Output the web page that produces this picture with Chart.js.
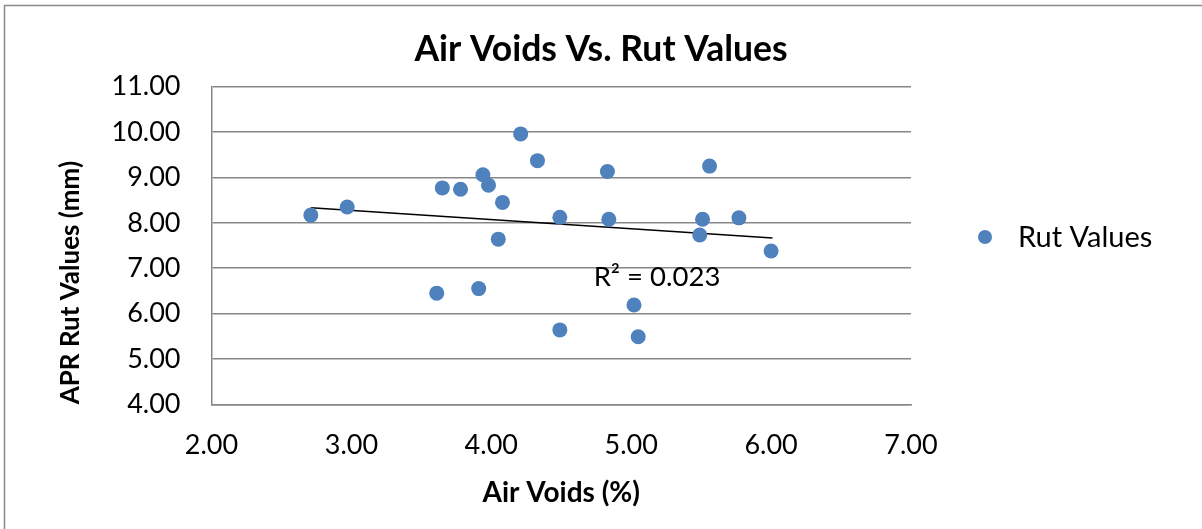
<!DOCTYPE html>
<html>
<head>
<meta charset="utf-8">
<script src="https://cdn.jsdelivr.net/npm/chart.js@4.4.1/dist/chart.umd.min.js"></script>
<style>
  html, body { margin: 0; padding: 0; background: #ffffff; }
  #wrap { width: 1202px; height: 529px; }
</style>
</head>
<body>
<div id="wrap"><canvas id="c" width="1202" height="529"></canvas></div>
<script>
// ---- data ----
const airVoids = [2.71, 2.97, 3.65, 3.78, 3.94, 3.98, 4.08, 4.21, 4.33, 4.49, 4.05, 3.61, 3.91, 4.49,
                  4.83, 4.84, 5.56, 5.51, 5.49, 5.77, 6.00, 5.02, 5.05];
const rutValues = [8.17, 8.35, 8.77, 8.74, 9.06, 8.83, 8.45, 9.96, 9.37, 8.12, 7.64, 6.45, 6.55, 5.64,
                   9.13, 8.08, 9.25, 8.08, 7.73, 8.11, 7.38, 6.19, 5.49];
const trendX = [2.71, 6.01];
const trendY = [8.33, 7.665];
const xTicks = [2, 3, 4, 5, 6, 7];
const yTicks = [4, 5, 6, 7, 8, 9, 10, 11];
const chartTitle = 'Air Voids Vs. Rut Values';
const xTitle = 'Air Voids (%)';
const yTitle = 'APR Rut Values (mm)';
const seriesName = 'Rut Values';
const r2Label = 'R² = 0.023';

const FONT = 'Lato, "Open Sans", "Liberation Sans", sans-serif';
const BLUE = '#4F81BD';
const GRID = '#878787';

const decor = {
  id: 'decor',
  beforeDraw(chart) {
    const ctx = chart.ctx;
    ctx.save();
    ctx.strokeStyle = '#8a8a8a';
    ctx.lineWidth = 1.5;
    ctx.strokeRect(4.5, 5.5, 1400, 700);
    ctx.restore();
  },
  afterDraw(chart) {
    const ctx = chart.ctx;
    ctx.save();
    // R² label
    ctx.fillStyle = '#000';
    ctx.font = '27.5px ' + FONT;
    ctx.textAlign = 'center';
    ctx.textBaseline = 'middle';
    ctx.fillText(r2Label, 657, 277);
    // legend
    ctx.beginPath();
    ctx.arc(985, 237, 7, 0, Math.PI * 2);
    ctx.fillStyle = BLUE;
    ctx.fill();
    ctx.fillStyle = '#000';
    ctx.textAlign = 'left';
    ctx.font = '29px ' + FONT;
    ctx.fillText(seriesName, 1018, 238);
    ctx.restore();
  }
};

new Chart(document.getElementById('c'), {
  type: 'scatter',
  data: {
    datasets: [
      {
        label: seriesName,
        data: airVoids.map((x, i) => ({ x: x, y: rutValues[i] })),
        backgroundColor: BLUE,
        borderColor: BLUE,
        pointRadius: 7.5,
        pointHoverRadius: 7.5,
        borderWidth: 0
      },
      {
        label: 'Linear (Rut Values)',
        type: 'line',
        data: trendX.map((x, i) => ({ x: x, y: trendY[i] })),
        borderColor: '#000',
        borderWidth: 1.5,
        pointRadius: 0,
        fill: false,
        showLine: true
      }
    ]
  },
  options: {
    responsive: false,
    animation: false,
    devicePixelRatio: 1,
    layout: { padding: { left: 0, right: 0, top: 0, bottom: 0 } },
    plugins: {
      legend: { display: false },
      tooltip: { enabled: false },
      title: {
        display: true,
        text: chartTitle,
        color: '#000',
        font: { family: FONT, size: 35.5, weight: 'bold', lineHeight: 1.2 },
        padding: { top: 28.7, bottom: 15.4 }
      }
    },
    scales: {
      x: {
        type: 'linear',
        min: 2, max: 7,
        afterBuildTicks(scale) { scale.ticks = xTicks.map(v => ({ value: v })); },
        afterFit(scale) { scale.height = 124.7; },
        grid: { display: false, drawTicks: false },
        border: { display: true, color: GRID, width: 1.5 },
        ticks: {
          color: '#000',
          padding: 25,
          font: { family: FONT, size: 27 },
          callback: v => Number(v).toFixed(2)
        },
        title: {
          display: true,
          text: xTitle,
          color: '#000',
          font: { family: FONT, size: 28, weight: 'bold', lineHeight: 1.2 },
          padding: { top: 0, bottom: 19.2 }
        }
      },
      y: {
        type: 'linear',
        min: 4, max: 11,
        afterBuildTicks(scale) { scale.ticks = yTicks.map(v => ({ value: v })); },
        afterFit(scale) { scale.width = 211.5; },
        grid: { display: true, color: GRID, lineWidth: 1.5, drawTicks: false },
        border: { display: true, color: GRID, width: 1.5 },
        ticks: {
          color: '#000',
          padding: 31,
          font: { family: FONT, size: 27 },
          callback: v => Number(v).toFixed(2)
        },
        title: {
          display: true,
          text: yTitle,
          align: 'start',
          color: '#000',
          font: { family: FONT, size: 26, weight: 'bold', lineHeight: 1.2 },
          padding: { top: 55.4, bottom: 0 }
        }
      },
      legendSpace: {
        type: 'linear',
        position: 'right',
        display: true,
        afterFit(scale) { scale.width = 291; },
        grid: { display: false, drawTicks: false },
        border: { display: false },
        ticks: { display: false },
        title: { display: false }
      }
    }
  },
  plugins: [decor]
});
</script>
</body>
</html>
